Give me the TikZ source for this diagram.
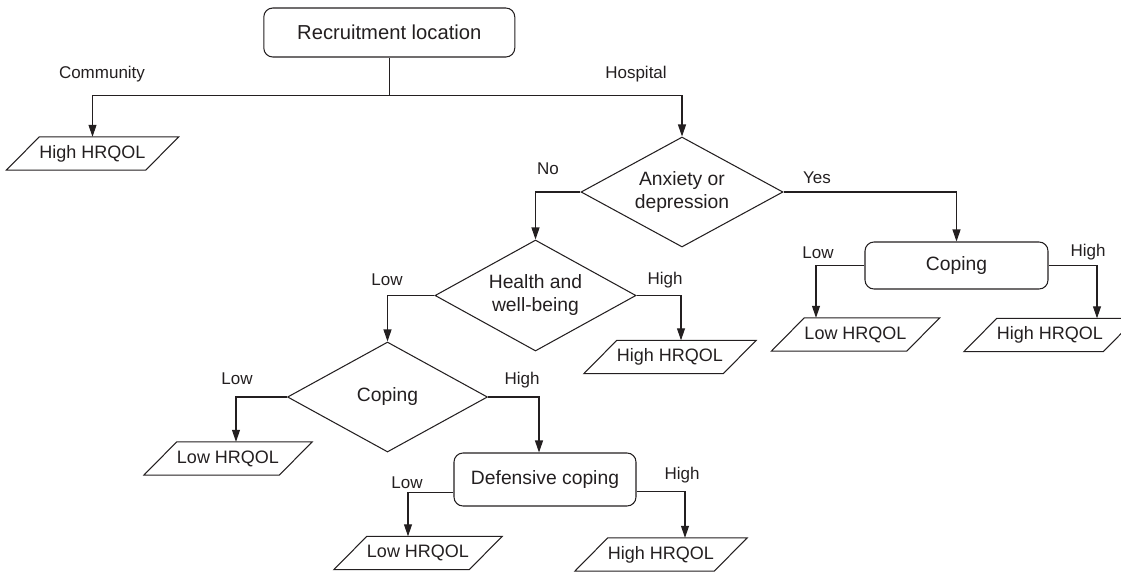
\documentclass[tikz,border=0pt]{standalone}
\usepackage{fontspec}
\setmainfont{Liberation Sans}
\usetikzlibrary{shapes.geometric,arrows.meta,calc}
\definecolor{ink}{HTML}{231F20}
\begin{document}
\begin{tikzpicture}[x=1pt,y=-1pt,
  box/.style={draw=ink, line width=1.05pt, rounded corners=9pt, inner sep=0pt, font=\fontsize{19.3}{24}\selectfont, text=ink},
  dia/.style={draw=ink, line width=1.05pt, diamond, aspect=2, inner sep=0pt, align=center, font=\fontsize{19.3}{23}\selectfont, text=ink},
  para/.style={inner sep=0pt, minimum width=100pt, minimum height=33pt, font=\fontsize{18}{22}\selectfont, text=ink},
  lbl/.style={font=\fontsize{17}{20}\selectfont, text=ink, inner sep=0pt, text height=12pt, text depth=3.5pt},
  conn/.style={draw=ink, line width=1.05pt},
  arr/.style={conn, -{Triangle[length=12pt,width=8pt]}}]
\useasboundingbox (0,0) rectangle (1121,571);

% decision and process nodes
\node[box, minimum width=251pt, minimum height=49pt, font=\fontsize{20.2}{24}\selectfont] (rec) at (389.3,32.5) {Recruitment location};
\node[dia, minimum width=202pt, minimum height=110pt] (anx) at (682,192) {Anxiety or\\depression};
\node[dia, minimum width=201pt, minimum height=111pt] (hea) at (535.5,295.5) {Health and\\well-being};
\node[dia, minimum width=200pt, minimum height=110pt] (cop) at (387.5,397) {Coping};
\node[box, minimum width=183pt, minimum height=47pt] (c2) at (956.5,265.5) {Coping};
\node[box, minimum width=182pt, minimum height=53pt] (def) at (545,479.5) {Defensive coping};

% outcome nodes (parallelograms)
\node[para] (hh1) at (92.5,153.5) {High HRQOL};
\node[para] (lowR) at (855.5,334.5) {Low HRQOL};
\node[para] (highR) at (1050,335) {High HRQOL};
\node[para] (highM) at (670,357) {High HRQOL};
\node[para] (lowL) at (228,458.5) {Low HRQOL};
\node[para] (lowB) at (418,553) {Low HRQOL};
\node[para] (highB) at (661,554.5) {High HRQOL};
\foreach \n in {hh1,lowR,highR,highM,lowL,lowB,highB}
  \draw[conn] ([xshift=-33pt]\n.south west) -- (\n.south east) -- ([xshift=33pt]\n.north east) -- (\n.north west) -- cycle;

% connectors
\draw[conn] (rec.south) -- ++(0,38) coordinate (j);
\draw[arr] (j) -| (hh1.north);
\draw[arr] (j) -| (anx.north);
\draw[arr] (anx.west) -| (hea.north);
\draw[arr] (anx.east) -| (c2.north);
\draw[arr] (c2.west) -| ([xshift=-39.5pt]lowR.north);
\draw[arr] (c2.east) -| ([xshift=47pt]highR.north);
\draw[arr] (hea.west) -| (cop.north);
\draw[arr] (hea.east) -| ([xshift=11pt]highM.north);
\draw[arr] (cop.west) -| ([xshift=8pt]lowL.north);
\draw[arr] (cop.east) -| ([xshift=-6pt]def.north);
\draw[arr] ([yshift=-13pt]def.west) -| ([xshift=-10pt]lowB.north);
\draw[arr] ([yshift=-12pt]def.east) -| ([xshift=24pt]highB.north);

% branch labels
\node[lbl] (lc) at (102,74) {Community};
\node[lbl] (lh) at (636,74) {Hospital};
\node[lbl] (lno) at (548,170) {No};
\node[lbl] (lyes) at (817,179) {Yes};
\node[lbl] (l1) at (818,254) {Low};
\node[lbl] (h1) at (1088,252) {High};
\node[lbl] (l2) at (387,281) {Low};
\node[lbl] (h2) at (665,280) {High};
\node[lbl] (l3) at (237,380) {Low};
\node[lbl] (h3) at (522,380) {High};
\node[lbl] (l4) at (407,484) {Low};
\node[lbl] (h4) at (682,475) {High};
\end{tikzpicture}
\end{document}
